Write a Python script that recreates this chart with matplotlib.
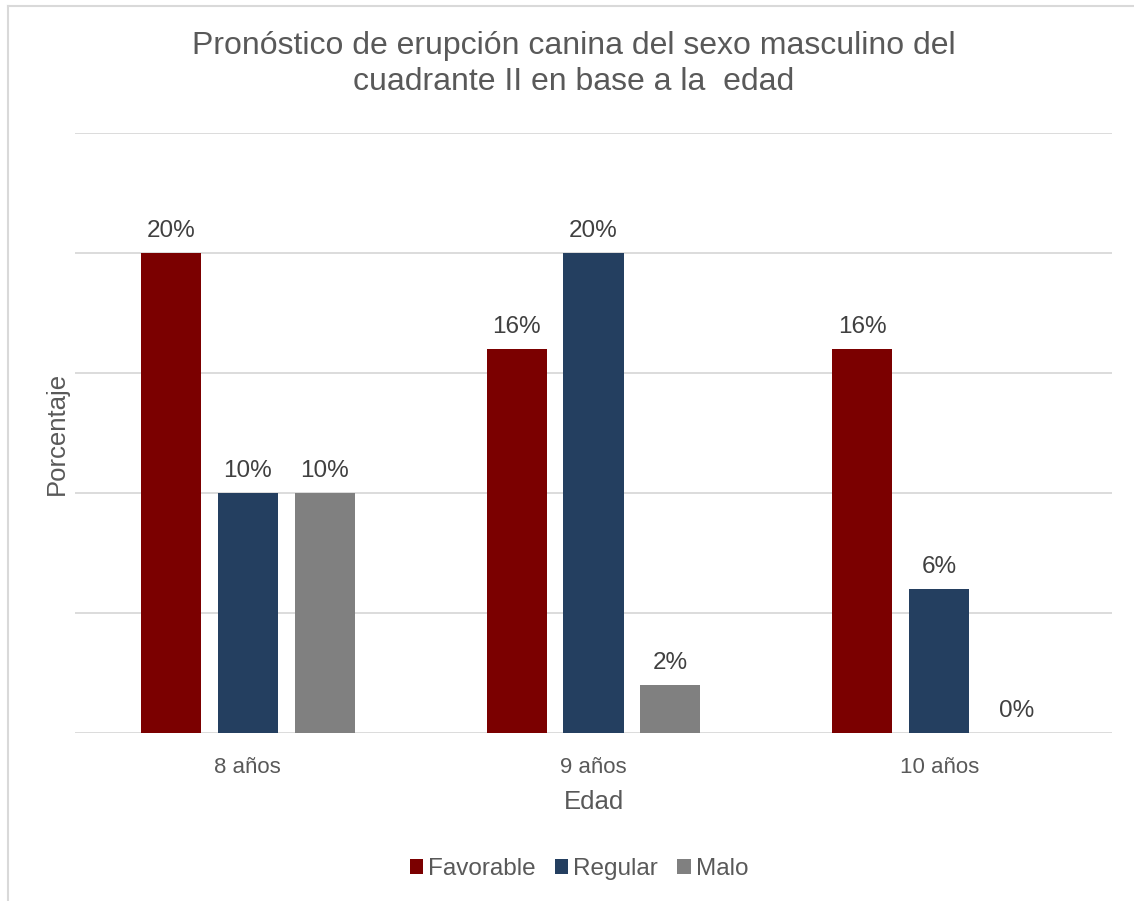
import matplotlib.pyplot as plt
from matplotlib.lines import Line2D
import numpy as np

plt.rcParams['font.family'] = ['Liberation Sans', 'DejaVu Sans']

categories = ["8 años", "9 años", "10 años"]
series = ["Favorable", "Regular", "Malo"]
favorable = [20, 16, 16]
regular = [10, 20, 6]
malo = [10, 2, 0]
colors = ["#7B0000", "#243F60", "#808080"]

W, H = 1134, 901
fig = plt.figure(figsize=(W / 100, H / 100), dpi=100)
ax = fig.add_axes([75 / W, (H - 733) / H, (1112 - 75) / W, 600 / H])

x = np.arange(len(categories))
width = 0.1736
step = 0.2227
for i, (name, vals) in enumerate(zip(series, [favorable, regular, malo])):
    pos = x + (i - 1) * step
    bars = ax.bar(pos, vals, width, color=colors[i], label=name, zorder=3)
    for b, v in zip(bars, vals):
        ax.annotate(f"{v}%", (b.get_x() + b.get_width() / 2, v), xytext=(0, 8),
                    textcoords="offset points", ha="center", va="bottom",
                    fontsize=17.5, color="#404040")

ax.set_ylim(0, 25)
ax.set_xlim(-0.5, 2.5)
ax.set_yticks(np.arange(0, 26, 5))
ax.set_yticklabels([])
ax.tick_params(axis="y", length=0)
ax.tick_params(axis="x", length=0, labelsize=16, labelcolor="#595959", pad=17)
ax.set_xticks(x)
ax.set_xticklabels(categories)
ax.grid(axis="y", color="#D9D9D9", linewidth=1.3, zorder=0)
for s in ax.spines.values():
    s.set_visible(False)

ax.set_xlabel("Edad", fontsize=18.5, color="#595959", labelpad=9)
ax.set_ylabel("Porcentaje", fontsize=18.5, color="#595959", labelpad=1)

fig.text(574 / W, (H - 64) / H, "Pronóstico de erupción canina del sexo masculino del\ncuadrante II en base a la  edad",
         ha="center", va="center", fontsize=23, color="#595959", linespacing=1.22)

fig.legend(loc="center", bbox_to_anchor=(579 / W, (H - 869) / H), ncol=3, frameon=False,
           fontsize=17.5, handlelength=0.55, handleheight=0.55, handletextpad=0.2,
           columnspacing=0.8, labelcolor="#595959")

# chart border (left and top edges only visible)
fig.add_artist(Line2D([7.5 / W, 7.5 / W], [0, (H - 6) / H], transform=fig.transFigure,
                      color="#D9D9D9", linewidth=1.5))
fig.add_artist(Line2D([7.5 / W, 1], [(H - 6) / H, (H - 6) / H], transform=fig.transFigure,
                      color="#D9D9D9", linewidth=1.5))

fig.savefig("out.png", dpi=100, facecolor="white")
